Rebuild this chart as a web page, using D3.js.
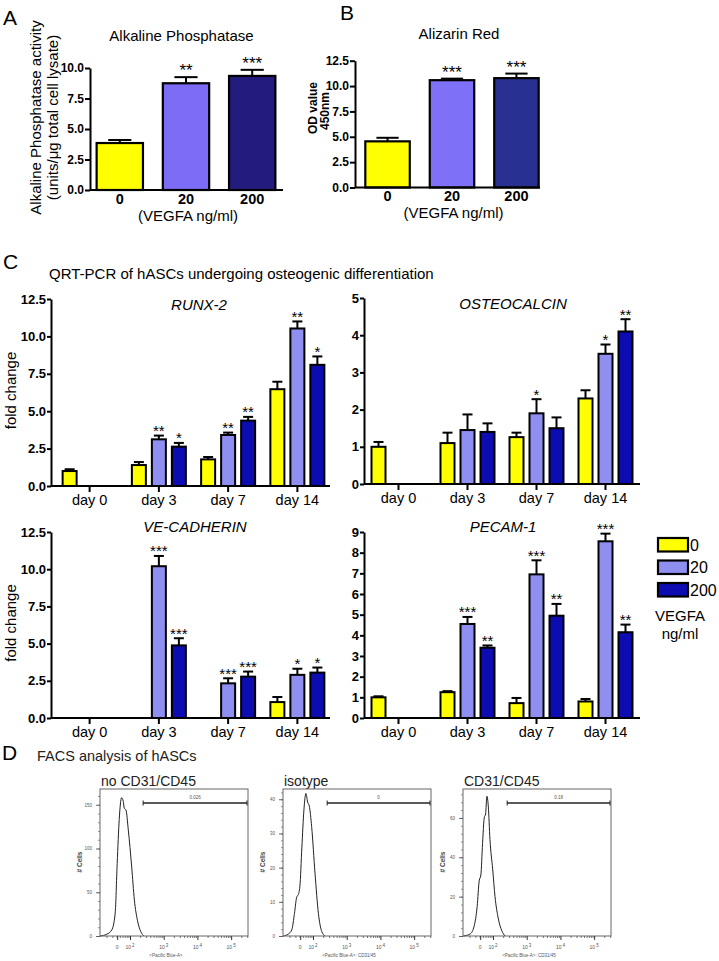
<!DOCTYPE html>
<html><head><meta charset="utf-8">
<script src="https://cdn.jsdelivr.net/npm/d3@7"></script>
<style>
body{margin:0;background:#fff}
svg{display:block}
</style></head><body>
<svg id="fig" width="719" height="961"></svg>
<script>
// ================= DATA =================
const doses = ["0", "20", "200"];

// Panel A: Alkaline Phosphatase
const alpValues = [3.85, 8.75, 9.35];
const alpErrors = [0.25, 0.5, 0.5];
const alpStars  = ["", "**", "***"];
const alpTicks  = [0, 2.5, 5, 7.5, 10];

// Panel B: Alizarin Red
const arsValues = [4.55, 10.58, 10.78];
const arsErrors = [0.35, 0.15, 0.45];
const arsStars  = ["", "***", "***"];
const arsTicks  = [0, 2.5, 5, 7.5, 10, 12.5];

// Panel C: QRT-PCR, rows = days, columns = doses (0, 20, 200)
const days = ["day 0", "day 3", "day 7", "day 14"];

const runx2Values = [[1.0, null, null], [1.4, 3.12, 2.63], [1.78, 3.41, 4.37], [6.47, 10.53, 8.1]];
const runx2Errors = [[0.12, 0, 0], [0.2, 0.25, 0.25], [0.16, 0.16, 0.25], [0.5, 0.47, 0.56]];
const runx2Stars  = [["", "", ""], ["", "**", "*"], ["", "**", "**"], ["", "**", "*"]];
const runx2Ticks  = [0, 2.5, 5, 7.5, 10, 12.5];

const osteoValues = [[1.0, null, null], [1.1, 1.45, 1.4], [1.26, 1.9, 1.5], [2.3, 3.5, 4.1]];
const osteoErrors = [[0.13, 0, 0], [0.28, 0.42, 0.23], [0.12, 0.38, 0.29], [0.22, 0.25, 0.33]];
const osteoStars  = [["", "", ""], ["", "", ""], ["", "*", ""], ["", "*", "**"]];
const osteoTicks  = [0, 1, 2, 3, 4, 5];

const vecadValues = [[null, null, null], [null, 10.2, 4.88], [null, 2.33, 2.78], [1.07, 2.9, 3.05]];
const vecadErrors = [[0, 0, 0], [0, 0.69, 0.48], [0, 0.34, 0.34], [0.34, 0.41, 0.34]];
const vecadStars  = [["", "", ""], ["", "***", "***"], ["", "***", "***"], ["", "*", "*"]];
const vecadTicks  = [0, 2.5, 5, 7.5, 10, 12.5];

const pecamValues = [[1.0, null, null], [1.25, 4.55, 3.4], [0.72, 6.95, 4.95], [0.8, 8.55, 4.15]];
const pecamErrors = [[0.05, 0, 0], [0.05, 0.34, 0.11], [0.25, 0.68, 0.57], [0.12, 0.37, 0.37]];
const pecamStars  = [["", "", ""], ["", "***", "**"], ["", "***", "**"], ["", "***", "**"]];
const pecamTicks  = [0, 1, 2, 3, 4, 5, 6, 7, 8, 9];

const legendLabels = ["0", "20", "200"];

// Panel D: FACS histograms (x in display decades, y = # cells)
const facsTitles  = ["no CD31/CD45", "isotype", "CD31/CD45"];
const facsXTitles = ["<Pacific Blue-A>", "<Pacific Blue-A>: CD31/45", "<Pacific Blue-A>: CD31/45"];
const facsYTicks  = [[0, 50, 100, 150], [0, 10, 20, 30, 40], [0, 20, 40, 60]];
const facsYMinor  = [10, 2, 4];
const facsYMax    = [168, 43, 74.7];
const facsGateStart = [2.39, 2.42, 2.42];
const facsGateEnd   = [5.47, 5.47, 5.47];
const facsGateLabel = ["0.026", "0", "0.18"];
const facsXTickU    = [1.62, 2, 3, 4, 5];
const facsXTickBase = ["0", "10", "10", "10", "10"];
const facsXTickExp  = ["", "2", "3", "4", "5"];

const facs1U = [1.11, 1.31, 1.46, 1.56, 1.62, 1.68, 1.75, 1.80, 1.83, 1.88, 1.95, 2.05, 2.13, 2.22, 2.32, 2.42];
const facs1N = [0, 2, 7, 26, 83, 133, 158, 154, 146, 144, 121, 79, 41, 18, 5, 0];
const facs2U = [1.12, 1.27, 1.37, 1.45, 1.52, 1.56, 1.61, 1.67, 1.73, 1.79, 1.84, 1.89, 1.96, 2.06, 2.16, 2.26, 2.36];
const facs2N = [0, 0.6, 1.8, 6.6, 11.5, 12, 14.4, 26, 36.8, 41.7, 39.2, 38, 32, 18.3, 6.6, 1.3, 0];
const facs3U = [1.12, 1.32, 1.44, 1.53, 1.59, 1.64, 1.69, 1.74, 1.78, 1.82, 1.86, 1.91, 1.99, 2.06, 2.16, 2.26, 2.36];
const facs3N = [0, 1, 5, 15, 28, 31, 47, 60, 62, 71, 66, 49, 34, 20, 8.6, 2.7, 0];

// ================= DRAWING =================
const FONT = '"Liberation Sans", Arial, Helvetica, sans-serif';
const svg = d3.select("#fig").attr("font-family", FONT);

const geneColors = ["#ffff00", "#8f8ff2", "#0c0cb2"];
const alpColors  = ["#ffff00", "#7c6cf6", "#241b7e"];
const arsColors  = ["#ffff00", "#7f70f8", "#283192"];

function txt(g, s, x, y, o = {}) {
  const t = g.append("text").attr("x", x).attr("y", y).text(s)
    .attr("font-size", o.size || 14).attr("fill", o.fill || "#000")
    .attr("text-anchor", o.anchor || "start");
  if (o.weight) t.attr("font-weight", o.weight);
  if (o.style) t.attr("font-style", o.style);
  if (o.rotate) t.attr("transform", `rotate(${o.rotate},${x},${y})`);
  return t;
}
function styleAxis(ag, size, weight, color = "#000", sw = 2) {
  ag.attr("font-family", FONT).attr("font-size", size);
  ag.select(".domain").attr("stroke", color).attr("stroke-width", sw);
  ag.selectAll(".tick line").attr("stroke", color).attr("stroke-width", sw);
  ag.selectAll(".tick text").attr("font-weight", weight).attr("fill", color === "#000" ? "#000" : "#444");
}
function hline(g, x1, x2, y, sw = 2, c = "#000") {
  g.append("line").attr("x1", x1).attr("x2", x2).attr("y1", y).attr("y2", y).attr("stroke", c).attr("stroke-width", sw);
}
function vline(g, x, y1, y2, sw = 2, c = "#000") {
  g.append("line").attr("x1", x).attr("x2", x).attr("y1", y1).attr("y2", y2).attr("stroke", c).attr("stroke-width", sw);
}

// Panel letters
[["A", 3, 25], ["B", 340, 20], ["C", 3, 269], ["D", 2, 760]].forEach(([t, x, y]) => txt(svg, t, x, y, { size: 21 }));

// ---------- Panels A & B ----------
function simplePanel(cfg) {
  const g = svg.append("g");
  const x = d3.scaleBand().domain(doses).range(cfg.band).paddingInner(cfg.pi).paddingOuter(cfg.po);
  const y = d3.scaleLinear().domain([0, cfg.yMax]).range([cfg.y0, cfg.yTop]);
  const bw = x.bandwidth();
  g.selectAll("rect").data(cfg.values).join("rect")
    .attr("x", (d, i) => x(doses[i])).attr("y", d => y(d))
    .attr("width", bw).attr("height", d => y(0) - y(d))
    .attr("fill", (d, i) => cfg.colors[i]).attr("stroke", "#000").attr("stroke-width", 2.2);
  cfg.values.forEach((v, i) => {
    const cx = x(doses[i]) + bw / 2, yt = y(v + cfg.errors[i]);
    vline(g, cx, y(v), yt);
    hline(g, cx - bw * 0.25, cx + bw * 0.25, yt);
    if (cfg.stars[i]) txt(g, cfg.stars[i], cx, yt - 1, { size: 17, anchor: "middle" });
  });
  const ag = g.append("g").attr("transform", `translate(${cfg.axisX},0)`)
    .call(d3.axisLeft(y).tickValues(cfg.ticks).tickFormat(d3.format(".1f")).tickSize(5).tickSizeOuter(0).tickPadding(1));
  styleAxis(ag, 12, "bold");
  hline(g, cfg.axisX, cfg.axisEnd, y(0));
  doses.forEach(d => txt(g, d, x(d) + bw / 2, cfg.xLabY, { size: 14.5, weight: "bold", anchor: "middle" }));
  txt(g, "(VEGFA ng/ml)", cfg.xTitleX, cfg.xTitleY, { size: 15, anchor: "middle" });
  txt(g, cfg.title, cfg.titleX, cfg.titleY, { size: 15, anchor: "middle" });
  return g;
}

const gA = simplePanel({
  band: [90, 282], pi: 0.3, po: 0.1, y0: 190, yTop: 68, yMax: 10,
  values: alpValues, errors: alpErrors, stars: alpStars, ticks: alpTicks, colors: alpColors,
  axisX: 90, axisEnd: 283, xLabY: 203.5, xTitleX: 188, xTitleY: 220.5,
  title: "Alkaline Phosphatase", titleX: 181.5, titleY: 41
});
txt(gA, "Alkaline Phosphatase activity", 41, 117.5, { size: 15, anchor: "middle", rotate: -90 });
txt(gA, "(units/\u03bcg total cell lysate)", 58, 117.5, { size: 15, anchor: "middle", rotate: -90 });

const gB = simplePanel({
  band: [355, 549], pi: 0.31, po: 0.16, y0: 187.5, yTop: 60.7, yMax: 12.5,
  values: arsValues, errors: arsErrors, stars: arsStars, ticks: arsTicks, colors: arsColors,
  axisX: 355, axisEnd: 540, xLabY: 201, xTitleX: 453.5, xTitleY: 218,
  title: "Alizarin Red", titleX: 459, titleY: 39
});
txt(gB, "OD value", 317, 108, { size: 12, weight: "bold", anchor: "middle", rotate: -90 });
txt(gB, "450nm", 329, 111, { size: 12, weight: "bold", anchor: "middle", rotate: -90 });

// ---------- Panel C ----------
txt(svg, "QRT-PCR of hASCs undergoing osteogenic differentiation", 49, 279, { size: 15 });

function genePanel(cfg) {
  const g = svg.append("g");
  const x0 = d3.scaleBand().domain(days).range(cfg.band);
  const x1 = d3.scaleBand().domain(doses).range([-30, 30]).paddingInner(0.3).paddingOuter(0.15);
  const y = d3.scaleLinear().domain([0, cfg.yMax]).range([cfg.y0, cfg.yTop]);
  const bw = x1.bandwidth();
  const cells = [];
  days.forEach((d, i) => doses.forEach((s, j) => {
    const v = cfg.values[i][j];
    if (v == null) return;
    cells.push({ d, s, j, v, e: cfg.errors[i][j], star: cfg.stars[i][j] });
  }));
  const left = c => x0(c.d) + x0.bandwidth() / 2 + x1(c.s);
  g.selectAll("rect").data(cells).join("rect")
    .attr("x", left).attr("y", c => y(c.v)).attr("width", bw).attr("height", c => y(0) - y(c.v))
    .attr("fill", c => geneColors[c.j]).attr("stroke", "#000").attr("stroke-width", 2);
  cells.forEach(c => {
    const cx = left(c) + bw / 2, yt = y(c.v + c.e);
    if (c.e > 0) { vline(g, cx, y(c.v), yt); hline(g, cx - 5, cx + 5, yt); }
    if (c.star) txt(g, c.star, cx, yt + 0.5, { size: 15, anchor: "middle" });
  });
  const ag = g.append("g").attr("transform", `translate(${cfg.axisX},0)`)
    .call(d3.axisLeft(y).tickValues(cfg.ticks).tickFormat(d3.format(cfg.fmt)).tickSize(4).tickSizeOuter(0).tickPadding(1));
  styleAxis(ag, 13, "bold");
  const xg = g.append("g").attr("transform", `translate(0,${cfg.y0})`)
    .call(d3.axisBottom(x0).tickSize(6).tickPadding(3).tickSizeOuter(0));
  styleAxis(xg, 14.5, "normal");
  xg.select(".domain").remove();
  hline(g, cfg.axisX, cfg.axisEnd, cfg.y0);
  txt(g, cfg.title, cfg.titleX, cfg.titleY, { size: 15, style: "italic", anchor: "middle" });
  if (cfg.yLabel) txt(g, "fold change", 16, (cfg.y0 + cfg.yTop) / 2 - 2, { size: 15, anchor: "middle", rotate: -90 });
}

genePanel({ band: [55, 332], axisX: 51, axisEnd: 330, y0: 486, yTop: 299, yMax: 12.5, fmt: ".1f",
  values: runx2Values, errors: runx2Errors, stars: runx2Stars, ticks: runx2Ticks,
  title: "RUNX-2", titleX: 199, titleY: 310, yLabel: true });
genePanel({ band: [364, 640], axisX: 364, axisEnd: 640, y0: 484, yTop: 298, yMax: 5, fmt: "d",
  values: osteoValues, errors: osteoErrors, stars: osteoStars, ticks: osteoTicks,
  title: "OSTEOCALCIN", titleX: 513, titleY: 309 });
genePanel({ band: [55, 332], axisX: 51, axisEnd: 330, y0: 718, yTop: 532, yMax: 12.5, fmt: ".1f",
  values: vecadValues, errors: vecadErrors, stars: vecadStars, ticks: vecadTicks,
  title: "VE-CADHERIN", titleX: 195, titleY: 532, yLabel: true });
genePanel({ band: [364, 640], axisX: 364, axisEnd: 640, y0: 718, yTop: 532, yMax: 9, fmt: "d",
  values: pecamValues, errors: pecamErrors, stars: pecamStars, ticks: pecamTicks,
  title: "PECAM-1", titleX: 503, titleY: 532 });

// Legend
const lg = svg.append("g");
const ly = d3.scalePoint().domain(legendLabels).range([538, 583]);
legendLabels.forEach((l, i) => {
  lg.append("rect").attr("x", 658).attr("y", ly(l)).attr("width", 30).attr("height", 13.5)
    .attr("fill", geneColors[i]).attr("stroke", "#000").attr("stroke-width", 2.2);
  txt(lg, l, 690, ly(l) + 12.5, { size: 16 });
});
txt(lg, "VEGFA", 680, 621, { size: 15, anchor: "middle" });
txt(lg, "ng/ml", 680, 638.5, { size: 15, anchor: "middle" });

// ---------- Panel D ----------
txt(svg, "FACS analysis of hASCs", 37, 761, { size: 14.5, fill: "#222" });

const facsU = [facs1U, facs2U, facs3U];
const facsN = [facs1N, facs2N, facs3N];
const boxLeft = [100, 283, 463];
const boxW = 148, boxTop = 789, boxBot = 936;

facsTitles.forEach((title, k) => {
  const g = svg.append("g");
  const L = boxLeft[k];
  const x = d3.scaleLinear().domain([1.11, 5.5]).range([L, L + boxW]);
  const y = d3.scaleLinear().domain([0, facsYMax[k]]).range([boxBot, boxTop]);

  txt(g, title, L + 1, 786, { size: 14, fill: "#222" });

  // histogram
  const pts = facsU[k].map((u, i) => [u, facsN[k][i]]);
  g.append("path").attr("d", d3.line().x(d => x(d[0])).y(d => y(d[1])).curve(d3.curveMonotoneX)(pts))
    .attr("fill", "none").attr("stroke", "#222").attr("stroke-width", 1);

  g.append("rect").attr("x", L).attr("y", boxTop).attr("width", boxW).attr("height", boxBot - boxTop)
    .attr("fill", "none").attr("stroke", "#666").attr("stroke-width", 1);

  // y axis minor + major
  const minor = d3.range(0, facsYMax[k], facsYMinor[k]);
  const ym = g.append("g").attr("transform", `translate(${L},0)`)
    .call(d3.axisLeft(y).tickValues(minor).tickSize(2).tickFormat(""));
  ym.select(".domain").remove(); ym.selectAll(".tick line").attr("stroke", "#777").attr("stroke-width", 0.8);
  const ya = g.append("g").attr("transform", `translate(${L},0)`)
    .call(d3.axisLeft(y).tickValues(facsYTicks[k]).tickSize(4).tickPadding(4));
  ya.select(".domain").remove();
  ya.attr("font-family", FONT).attr("font-size", 4.5);
  ya.selectAll(".tick line").attr("stroke", "#555").attr("stroke-width", 0.9);
  ya.selectAll(".tick text").attr("fill", "#555");

  // x axis minor ticks (log positions)
  const xMinor = [];
  [1, 2, 3, 4, 5].forEach(dec => d3.range(2, 10).forEach(m => {
    const u = dec + Math.log10(m);
    if (u > 1.15 && u < 5.48) xMinor.push(u);
  }));
  const xm = g.append("g").attr("transform", `translate(0,${boxBot})`)
    .call(d3.axisBottom(x).tickValues(xMinor).tickSize(2).tickFormat(""));
  xm.select(".domain").remove(); xm.selectAll(".tick line").attr("stroke", "#555").attr("stroke-width", 0.8);
  const xa = g.append("g").attr("transform", `translate(0,${boxBot})`)
    .call(d3.axisBottom(x).tickValues(facsXTickU).tickSize(4).tickFormat(""));
  xa.select(".domain").remove(); xa.selectAll(".tick line").attr("stroke", "#333").attr("stroke-width", 1);
  facsXTickU.forEach((u, i) => {
    const t = g.append("text").attr("x", x(u)).attr("y", 949).attr("font-size", 5).attr("fill", "#555")
      .attr("text-anchor", "middle");
    t.append("tspan").text(facsXTickBase[i]);
    if (facsXTickExp[i]) t.append("tspan").attr("dy", -2.5).attr("font-size", 4.5).attr("dx", 1).text(facsXTickExp[i]);
  });
  txt(g, facsXTitles[k], L + boxW / 2 - 8, 957, { size: 4.5, fill: "#555", anchor: "middle" });
  txt(g, "# Cells", L - 18, 862, { size: 6.5, fill: "#444", anchor: "middle", rotate: -90, weight: "bold" });

  // gate
  const gy = boxTop + 14;
  hline(g, x(facsGateStart[k]), x(facsGateEnd[k]), gy, 1.3, "#222");
  vline(g, x(facsGateStart[k]), gy - 2.5, gy + 2.5, 1, "#222");
  vline(g, x(facsGateEnd[k]), gy - 2.5, gy + 2.5, 1, "#222");
  txt(g, facsGateLabel[k], x((facsGateStart[k] + facsGateEnd[k]) / 2), gy - 4, { size: 4.5, fill: "#555", anchor: "middle" });
});
</script>
</body></html>
